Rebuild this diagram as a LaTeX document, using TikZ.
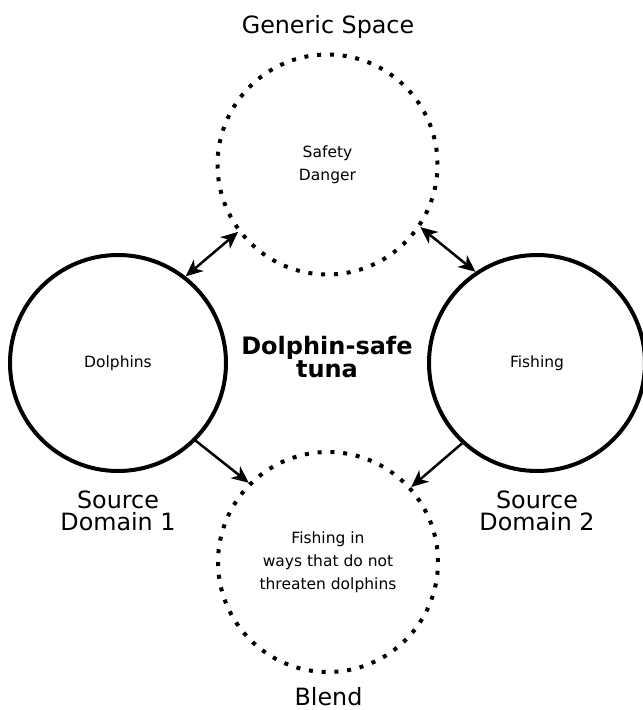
\documentclass[tikz,border=0pt]{standalone}
\usepackage{fontspec}
\setmainfont{DejaVu Sans}
\usetikzlibrary{arrows.meta}
\begin{document}
\begin{tikzpicture}[x=1pt,y=-1pt,
  solidc/.style={circle, draw, line width=4pt, minimum size=216pt, inner sep=0pt,
    font=\fontsize{15.5}{22.5}\selectfont, align=center},
  dotc/.style={circle, draw, line width=4pt, dash pattern=on 4pt off 8.8pt,
    minimum size=220pt, inner sep=0pt, font=\fontsize{15.5}{23}\selectfont, align=center},
  biglabel/.style={font=\fontsize{23.8}{22}\selectfont, align=center, inner sep=0pt},
  boldlabel/.style={font=\fontsize{24}{23}\selectfont\bfseries, align=center, inner sep=0pt},
  tip/.tip={Stealth[length=17pt,width=15pt,inset=5pt]},
  arr/.style={line width=2.5pt, -tip},
  dblarr/.style={line width=2.5pt, tip-tip},
]
\useasboundingbox (0,0) rectangle (643,710);
\fill[white] (0,0) rectangle (643,710);

\node[dotc] (T) at (327.5,164.5) {Safety\\Danger};
\node[dotc] (B) at (328,562) {Fishing in\\ways that do not\\threaten dolphins};
\node[solidc] (L) at (118,363) {Dolphins};
\node[solidc] (R) at (537,363) {Fishing};

\node[biglabel, anchor=base] (gs) at (328,33) {Generic Space};
\node[biglabel, anchor=base] (bl) at (328.5,705) {Blend};
\node[biglabel] (sd1) at (118,510.5) {Source\\Domain 1};
\node[biglabel] (sd2) at (537,510.5) {Source\\Domain 2};
\node[boldlabel] (dst) at (327,357.5) {Dolphin-safe\\tuna};

\draw[dblarr] (L.52.9) -- (T.217.6);
\draw[dblarr] (T.-34.5) -- (R.124.9);
\draw[arr] (L.-45.4) -- (B.135.8);
\draw[arr] (R.227.5) -- (B.42);
\end{tikzpicture}
\end{document}
